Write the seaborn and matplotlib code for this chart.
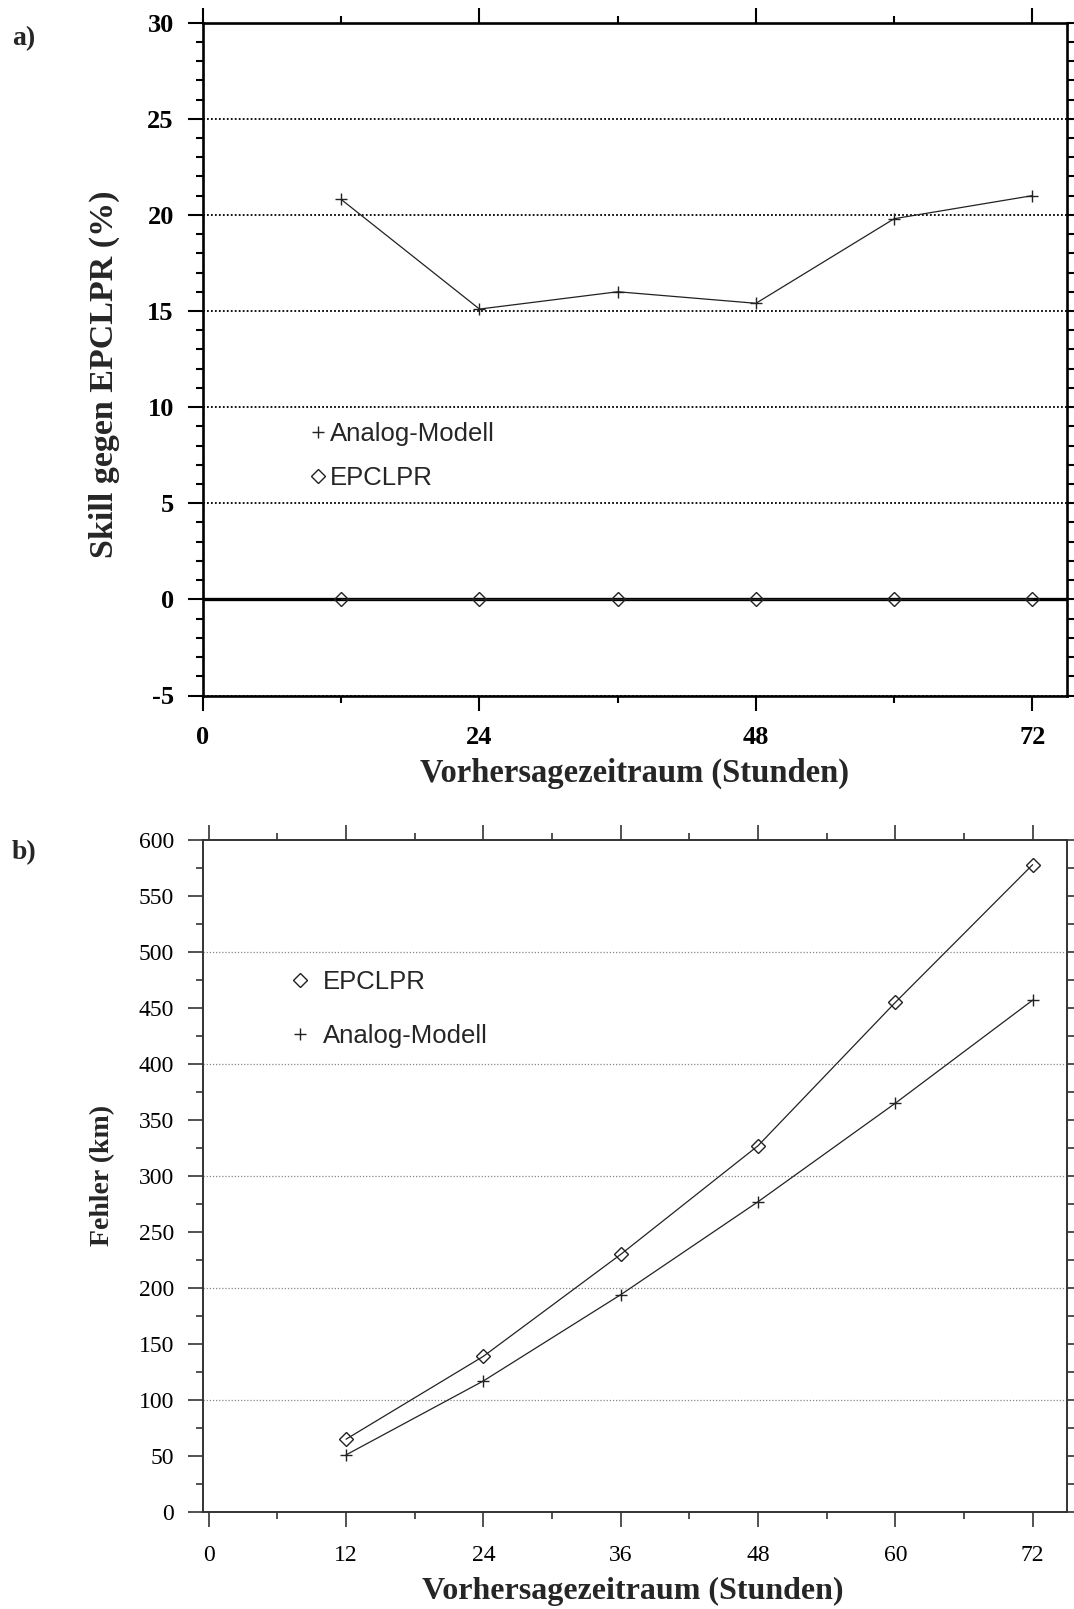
import matplotlib
matplotlib.use("Agg")
import matplotlib.pyplot as plt
import seaborn as sns
import pandas as pd
from matplotlib.ticker import MultipleLocator, FixedLocator
from matplotlib.lines import Line2D

# ---------------- data ----------------
hours = [12, 24, 36, 48, 60, 72]
skill_analog = [20.8, 15.1, 16.0, 15.4, 19.8, 21.0]
skill_epclpr = [0, 0, 0, 0, 0, 0]
err_epclpr = [65, 139, 230, 327, 455, 578]
err_analog = [51, 117, 194, 277, 365, 457]

top_xticks = [0, 24, 48, 72]
top_xminor = [12, 36, 60]
bottom_xticks = [0, 12, 24, 36, 48, 60, 72]
bottom_grid = [100, 200, 300, 400, 500]

label_analog = "Analog-Modell"
label_epclpr = "EPCLPR"
xlabel = "Vorhersagezeitraum (Stunden)"
ylabel_a = "Skill gegen EPCLPR (%)"
ylabel_b = "Fehler (km)"

# ---------------- style ----------------
sns.set_theme(style="ticks")
plt.rcParams['font.family'] = ['Liberation Serif', 'DejaVu Serif']
plt.rcParams['axes.edgecolor'] = 'black'
plt.rcParams['xtick.color'] = 'black'
plt.rcParams['ytick.color'] = 'black'

W, H = 1074, 1609
fig = plt.figure(figsize=(W / 100, H / 100), dpi=100)


def fx(px):
    return px / W


def fy(py):
    return 1 - py / H


ax1 = fig.add_axes([fx(203), fy(695.5), fx(1067) - fx(203), fy(22.6) - fy(695.5)])
ax2 = fig.add_axes([fx(203), fy(1512), fx(1067) - fx(203), fy(840) - fy(1512)])

df_a = pd.DataFrame({"h": hours, "analog": skill_analog, "epclpr": skill_epclpr})
df_b = pd.DataFrame({"h": hours, "analog": err_analog, "epclpr": err_epclpr})

# ---------------- panel a ----------------
ax1.set_xlim(0, 75)
ax1.set_ylim(-5, 30)
ax1.yaxis.set_major_locator(MultipleLocator(5))
ax1.yaxis.set_minor_locator(MultipleLocator(1))
ax1.xaxis.set_major_locator(FixedLocator(top_xticks))
ax1.xaxis.set_minor_locator(FixedLocator(top_xminor))
ax1.grid(axis='y', which='major', color='black', linestyle=(0, (1, 1.2)), linewidth=1.3)
ax1.axhline(0, color='black', linewidth=2.4, zorder=2)

sns.lineplot(data=df_a, x="h", y="analog", ax=ax1, color='#222222', linewidth=0.9,
             marker='+', markersize=9, markeredgewidth=1.0, markeredgecolor='#222222', zorder=4)
sns.lineplot(data=df_a, x="h", y="epclpr", ax=ax1, color='#222222', linewidth=0.9,
             marker='D', markersize=7, markerfacecolor='none', markeredgewidth=1.0,
             markeredgecolor='#222222', zorder=4)

for sp in ax1.spines.values():
    sp.set_linewidth(1.9)
ax1.tick_params(which='both', direction='out', top=True, right=True, width=1.5)
ax1.tick_params(which='major', length=10.5)
ax1.tick_params(which='minor', length=5)
ax1.tick_params(axis='y', which='major', pad=10.5, labelsize=19)
ax1.tick_params(axis='x', which='major', pad=11.5, labelsize=19)
ax1.set_xticks(top_xticks)
ax1.set_xticklabels([str(t) for t in top_xticks], fontweight='bold')
ax1.set_yticks(list(range(-5, 31, 5)))
ax1.set_yticklabels([str(t) for t in range(-5, 31, 5)], fontweight='bold')

ax1.set_xlabel(xlabel, fontsize=23.5, fontweight='bold', va='center')
ax1.set_ylabel(ylabel_a, fontsize=24.5, fontweight='bold', va='center')
ax1.xaxis.set_label_coords(fx(635), fy(773), transform=fig.transFigure)
ax1.yaxis.set_label_coords(fx(104), fy(374), transform=fig.transFigure)

h_an = Line2D([], [], ls='none', marker='+', markersize=9, markeredgewidth=1.0, color='#222222')
h_ep = Line2D([], [], ls='none', marker='D', markersize=7, markerfacecolor='none',
              markeredgewidth=1.0, markeredgecolor='#222222')
ax1.legend([h_an, h_ep], [label_analog, label_epclpr], loc='center left',
           bbox_to_anchor=(fx(307.7), fy(456)), bbox_transform=fig.transFigure,
           frameon=False, borderpad=0, borderaxespad=0, handlelength=0.8,
           handletextpad=0.07, labelspacing=0.75,
           prop={'family': 'Liberation Sans', 'size': 18.5})

# ---------------- panel b ----------------
ax2.set_xlim(-0.5, 75)
ax2.set_ylim(0, 600)
ax2.yaxis.set_major_locator(MultipleLocator(50))
ax2.yaxis.set_minor_locator(MultipleLocator(25))
ax2.xaxis.set_major_locator(FixedLocator(bottom_xticks))
ax2.xaxis.set_minor_locator(MultipleLocator(6))
for g in bottom_grid:
    ax2.axhline(g, color='#888888', linestyle=(0, (1, 1.5)), linewidth=0.9, zorder=1)

sns.lineplot(data=df_b, x="h", y="epclpr", ax=ax2, color='#222222', linewidth=0.9,
             marker='D', markersize=7, markerfacecolor='none', markeredgewidth=1.0,
             markeredgecolor='#222222', zorder=4)
sns.lineplot(data=df_b, x="h", y="analog", ax=ax2, color='#222222', linewidth=0.9,
             marker='+', markersize=9, markeredgewidth=1.0, markeredgecolor='#222222', zorder=4)

for sp in ax2.spines.values():
    sp.set_linewidth(1.4)
    sp.set_color('#333333')
ax2.tick_params(which='both', direction='out', top=True, right=True, width=1.2, color='#333333')
ax2.tick_params(which='major', length=10.5)
ax2.tick_params(which='minor', length=5)
ax2.tick_params(axis='y', which='major', pad=10.5, labelsize=17)
ax2.tick_params(axis='x', which='major', pad=13.5, labelsize=17)
ax2.set_xticks(bottom_xticks)
ax2.set_xticklabels([str(t) for t in bottom_xticks])

ax2.set_xlabel(xlabel, fontsize=23, fontweight='bold', va='center')
ax2.set_ylabel(ylabel_b, fontsize=20, fontweight='bold', va='center')
ax2.xaxis.set_label_coords(fx(633), fy(1591), transform=fig.transFigure)
ax2.yaxis.set_label_coords(fx(103), fy(1175), transform=fig.transFigure)

h_ep2 = Line2D([], [], ls='none', marker='D', markersize=7, markerfacecolor='none',
               markeredgewidth=1.0, markeredgecolor='#222222')
h_an2 = Line2D([], [], ls='none', marker='+', markersize=9, markeredgewidth=1.0, color='#222222')
ax2.legend([h_ep2, h_an2], [label_epclpr, label_analog], loc='center left',
           bbox_to_anchor=(fx(284.6), fy(1009)), bbox_transform=fig.transFigure,
           frameon=False, borderpad=0, borderaxespad=0, handlelength=1.2,
           handletextpad=0.3, labelspacing=1.15,
           prop={'family': 'Liberation Sans', 'size': 18.5})

# panel letters
fig.text(fx(12), fy(39), "a)", fontsize=20, fontweight='bold', ha='left', va='center')
fig.text(fx(12), fy(853), "b)", fontsize=20, fontweight='bold', ha='left', va='center')

fig.savefig("out.png", dpi=100)
